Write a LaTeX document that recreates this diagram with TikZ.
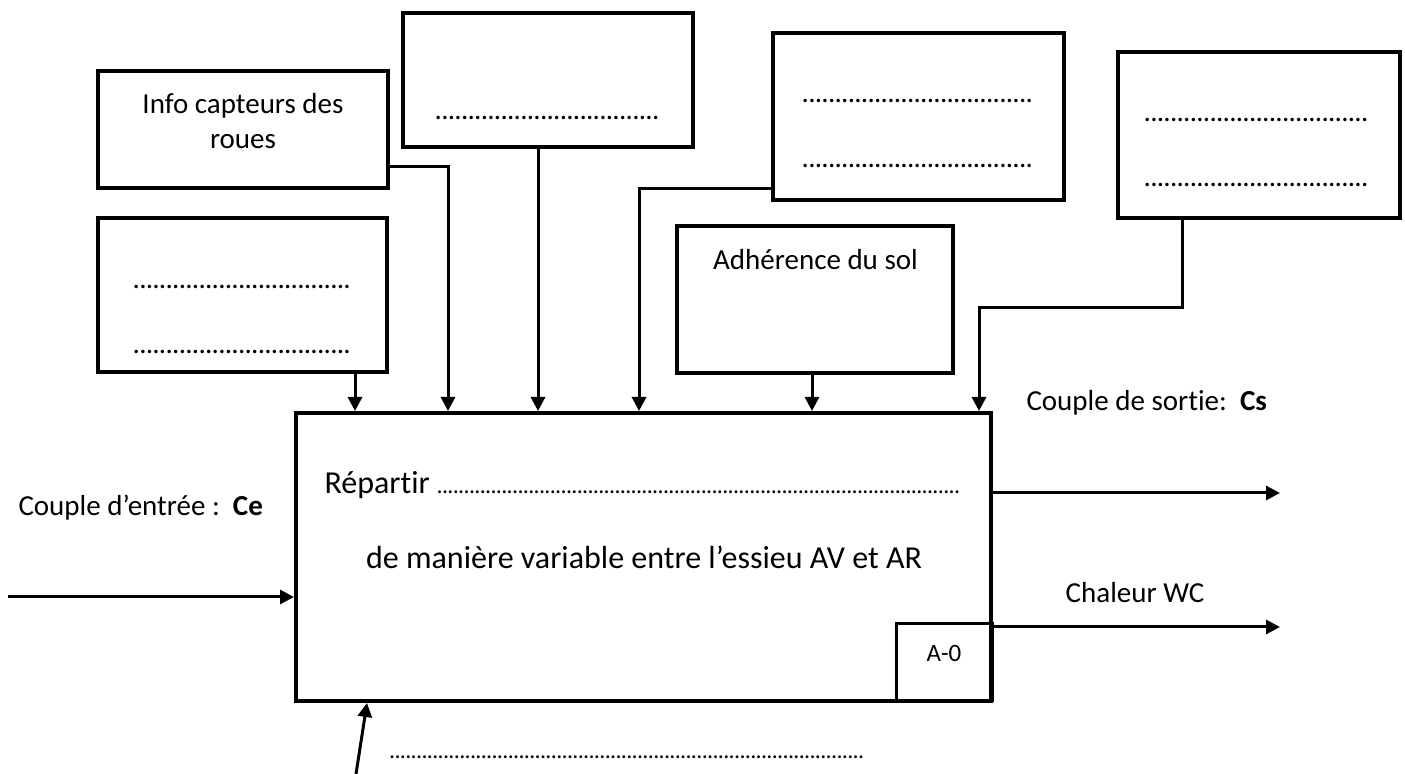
\documentclass[tikz,border=0pt]{standalone}
\usepackage{fontspec}
\setmainfont[Ligatures=NoCommon]{Carlito}
\usetikzlibrary{arrows.meta}
\newcommand{\pointilles}[2][3.3pt]{\hbox to #2{\leaders\hbox to #1{\hss.\hss}\hfill}}

\begin{document}
\begin{tikzpicture}[x=0.5pt,y=-0.5pt,>={Triangle[length=7pt,width=7pt]},line width=1.5pt]
    \tikzstyle{boite}=[rectangle, draw, line width=2pt, inner sep=0pt]
    \tikzstyle{texte}=[font=\fontsize{14.5}{17.5}\selectfont, align=center, inner sep=0pt]
    \tikzstyle{ligne}=[font=\fontsize{14.5}{32.5}\selectfont, align=center, inner sep=0pt]
    \useasboundingbox (0,0) rectangle (1405,774);
    % boites des entrees
    \node[boite, minimum width=145pt, minimum height=58.5pt] (capteurs) at (243,129.5) {};
    \node[boite, minimum width=145pt, minimum height=67pt] (vide2) at (548,80) {};
    \node[boite, minimum width=144.5pt, minimum height=77pt] (vide1) at (242.5,295) {};
    \node[boite, minimum width=145.5pt, minimum height=83.5pt] (vide3) at (918.5,116.5) {};
    \node[boite, minimum width=141pt, minimum height=83pt] (vide4) at (1259,135) {};
    \node[boite, minimum width=138pt, minimum height=73.5pt] (adherence) at (815,299.5) {};
    \node[texte] (t-capteurs) at (243,121) {Info capteurs des\\roues};
    \node[ligne] (t-vide2) at (547.5,118) {\pointilles{112.5pt}};
    \node[ligne] (t-vide1) at (242.5,319) {\pointilles{109.5pt}\\\pointilles{109.5pt}};
    \node[ligne] (t-vide3) at (919.5,133) {\pointilles{117.5pt}\\\pointilles{117.5pt}};
    \node[ligne] (t-vide4) at (1257,152) {\pointilles{113pt}\\\pointilles{113pt}};
    \node[texte] (t-adherence) at (815.5,260) {Adhérence du sol};
    % fonction globale
    \node[boite, minimum width=347.5pt, minimum height=144pt] (principal) at (643.5,557) {};
    \node[boite, line width=1.5pt, minimum width=48pt, minimum height=38.5pt,
      font=\fontsize{12.5}{15}\selectfont] (a0) at (944,662.5) {\raisebox{9pt}{A-0}};
    \node[anchor=base west, inner sep=0pt, font=\fontsize{16}{19}\selectfont] (repartir) at (323,494)
      {Répartir {\fontsize{12}{14}\selectfont\pointilles[2.7pt]{263pt}}};
    \node[inner sep=0pt, font=\fontsize{16}{19}\selectfont] (maniere) at (644,557)
      {de manière variable entre l’essieu AV et AR};
    \node[anchor=base west, inner sep=0pt, font=\fontsize{12}{14}\selectfont] (support-txt) at (388,759)
      {\pointilles[2.7pt]{238.5pt}};
    % flux
    \node[texte, anchor=west] (l-entree) at (17,508) {Couple d’entrée :\ \ \textbf{Ce}};
    \node[texte, anchor=west] (l-sortie) at (1025,403) {Couple de sortie:\ \ \textbf{Cs}};
    \node[texte] (l-chaleur) at (1135,593) {Chaleur WC};
    \coordinate (source) at (8,597);
    \coordinate (sortie1) at (1280,493);
    \coordinate (sortie2) at (1280,627);
    \coordinate (support) at (356,774);
    \coordinate (coude) at (979,308);
    \draw[->] (source) -- (principal.west |- source);
    \draw[->] (principal.east |- sortie1) -- (sortie1);
    \draw[->] (principal.east |- sortie2) -- (sortie2);
    \draw[->] (support) -- (principal.south -| 367,0);
    % controles
    \draw[->] (vide1.south -| 355,0) -- (principal.north -| 355,0);
    \draw[->] (capteurs.east |- 0,167) -| (principal.north -| 448,0);
    \draw[->] (vide2.south -| 538,0) -- (principal.north -| 538,0);
    \draw[->] (vide3.west |- 0,189) -| (principal.north -| 639,0);
    \draw[->] (adherence.south -| 812,0) -- (principal.north -| 812,0);
    \draw[->] (vide4.south -| 1182,0) |- (coude) -- (principal.north -| coude);
\end{tikzpicture}
\end{document}
